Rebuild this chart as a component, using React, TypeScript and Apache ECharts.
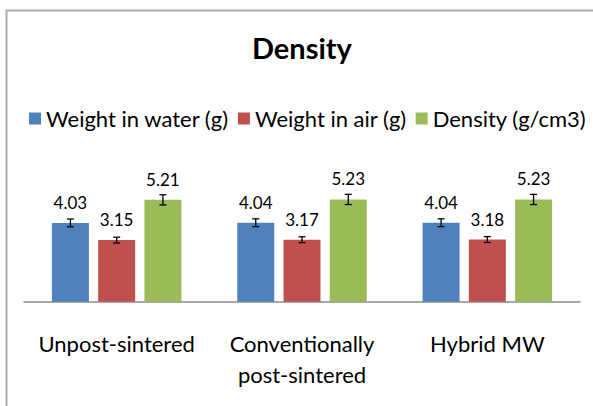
import React, { useEffect, useRef } from "react";
import * as echarts from "echarts";

const categories = ["Unpost-sintered", "Conventionally\npost-sintered", "Hybrid MW"];
const seriesNames = ["Weight in water (g)", "Weight in air (g)", "Density (g/cm3)"];
const weightInWater = [4.03, 4.04, 4.04];
const weightInAir = [3.15, 3.17, 3.18];
const density = [5.21, 5.23, 5.23];
const errWater = [0.2, 0.2, 0.2];
const errAir = [0.15, 0.15, 0.15];
const errDensity = [0.26, 0.26, 0.26];

const colors = ["#4F81BD", "#C0504D", "#9BBB59"];
const BAR_W = 37;
const GAP = 0.25;
const FONT = "Lato";

export default function App() {
  const ref = useRef<HTMLDivElement>(null);
  useEffect(() => {
    if (!ref.current) return;
    const chart = echarts.init(ref.current, undefined, { renderer: "svg" });
    const values = [weightInWater, weightInAir, density];
    const errs = [errWater, errAir, errDensity];
    const step = BAR_W * (1 + GAP);
    const offsets = [-step, 0, step];

    const barSeries = values.map((vals, i) => ({
      name: seriesNames[i],
      type: "bar",
      barWidth: BAR_W,
      barGap: GAP * 100 + "%",
      data: vals,
      itemStyle: { color: colors[i] },
      label: {
        show: true,
        position: "top",
        distance: 12,
        formatter: (p: any) => p.value.toFixed(2),
        fontFamily: FONT,
        fontSize: 17,
        color: "#000",
      },
    }));

    const errSeries = values.map((vals, i) => ({
      name: "err" + i,
      type: "custom",
      z: 5,
      data: vals.map((v, k) => [k, v, errs[i][k]]),
      renderItem: (params: any, api: any) => {
        const x = api.value(0);
        const v = api.value(1);
        const e = api.value(2);
        const top = api.coord([x, v + e]);
        const bot = api.coord([x, v - e]);
        const cx = top[0] + offsets[i];
        const hw = 3.5;
        const st = { stroke: "#000", lineWidth: 1.3 };
        return {
          type: "group",
          children: [
            { type: "line", shape: { x1: cx, y1: top[1], x2: cx, y2: bot[1] }, style: st },
            { type: "line", shape: { x1: cx - hw, y1: top[1], x2: cx + hw, y2: top[1] }, style: st },
            { type: "line", shape: { x1: cx - hw, y1: bot[1], x2: cx + hw, y2: bot[1] }, style: st },
          ],
        };
      },
    }));

    chart.setOption({
      animation: false,
      backgroundColor: "#fff",
      title: {
        text: "Density",
        left: 252,
        top: 33,
        padding: 0,
        textStyle: { fontFamily: FONT, fontWeight: "bold", fontSize: 29, color: "#000" },
      },
      legend: {
        data: seriesNames,
        left: 29,
        top: 107.5,
        padding: 0,
        itemWidth: 12,
        itemHeight: 12,
        itemGap: 9,
        icon: "rect",
        textStyle: { fontFamily: FONT, fontSize: 22, color: "#000" },
      },
      grid: { left: 24, right: 13, top: 184.4, bottom: 104.3 },
      xAxis: {
        type: "category",
        data: categories,
        axisLine: { lineStyle: { color: "#8a8a8a", width: 1.5 } },
        axisTick: { show: false },
        axisLabel: {
          fontFamily: FONT,
          fontSize: 22,
          lineHeight: 31,
          color: "#000",
          margin: 26,
          interval: 0,
        },
      },
      yAxis: {
        type: "value",
        min: 0,
        max: 6,
        show: false,
        splitLine: { show: false },
      },
      graphic: [
        {
          type: "rect",
          shape: { x: 6.5, y: 10.5, width: 700, height: 500 },
          style: { fill: "none", stroke: "#ababab", lineWidth: 2 },
          silent: true,
        },
      ],
      series: [...barSeries, ...errSeries],
    });
    return () => chart.dispose();
  }, []);
  return (
    <div
      ref={ref}
      style={{ position: "absolute", left: 0, top: 0, width: 593, height: 406 }}
    />
  );
}
